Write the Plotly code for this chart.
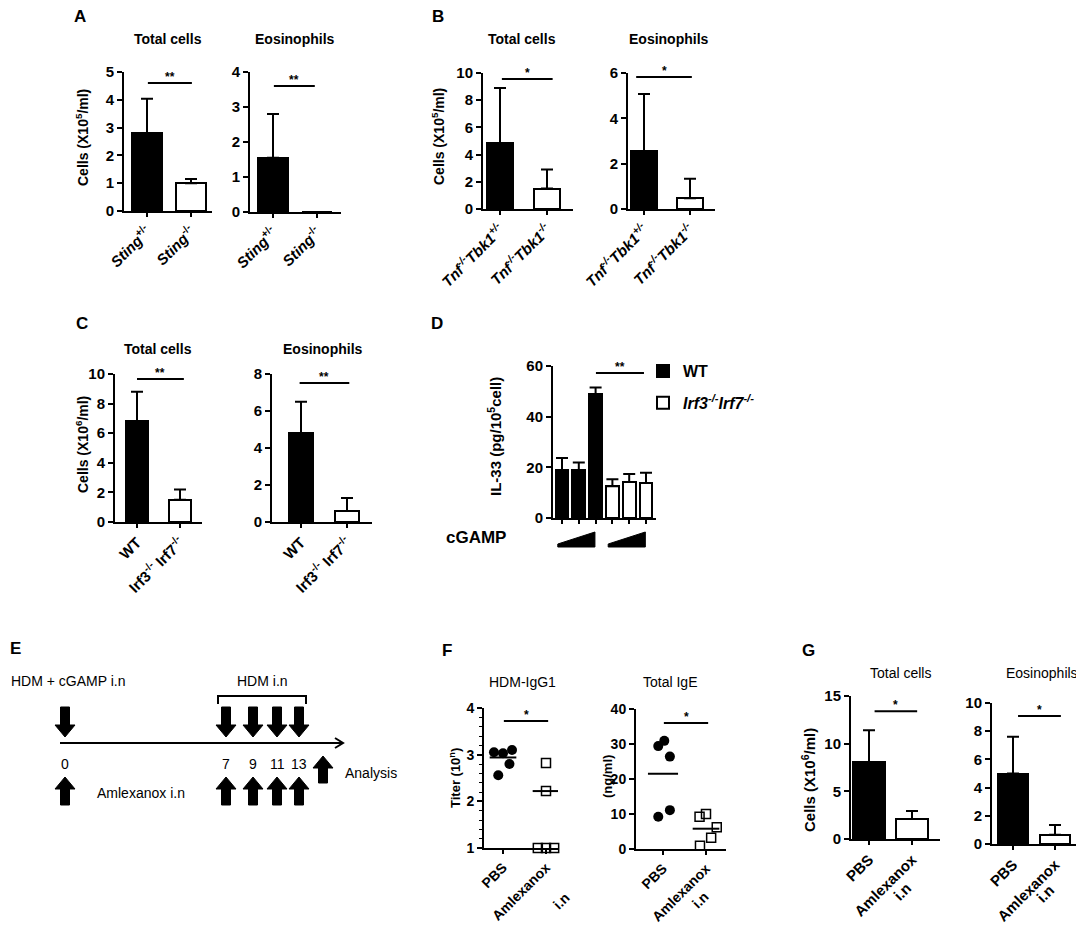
import plotly.graph_objects as go

# the page body has an 8px margin, so the figure is drawn 8px smaller and offset
OX, OY = 8, 8
W, H = 1084 - OX, 925 - OY
FONT = "Liberation Sans"

# ================ data ================
a_labels = ["<i>Sting</i><sup>+/-</sup>", "<i>Sting</i><sup>-/-</sup>"]
a_total = [2.8, 1.0]
a_total_sd = [1.24, 0.15]
a_eos = [1.55, 0.0]
a_eos_sd = [1.25, 0.0]

b_labels = ["<i>Tnf<sup>-/-</sup>Tbk1<sup>+/-</sup></i>", "<i>Tnf<sup>-/-</sup>Tbk1<sup>-/-</sup></i>"]
b_total = [4.85, 1.5]
b_total_sd = [4.05, 1.4]
b_eos = [2.55, 0.47]
b_eos_sd = [2.52, 0.86]

c_labels = ["WT", "Irf3<sup>-/-</sup> Irf7<sup>-/-</sup>"]
c_total = [6.8, 1.5]
c_total_sd = [2.0, 0.7]
c_eos = [4.8, 0.6]
c_eos_sd = [1.7, 0.7]

d_wt = [18.8, 18.9, 48.9]
d_wt_sd = [4.9, 3.0, 2.6]
d_ko = [12.5, 14.2, 13.8]
d_ko_sd = [2.8, 3.2, 4.1]

e_days = ["0", "7", "9", "11", "13"]

f_labels = ["PBS", "Amlexanox"]
f_igg1_pbs = [3.05, 3.03, 3.10, 2.80, 2.56]
f_igg1_aml = [2.82, 2.22, 1.0, 1.0, 1.0]
f_igg1_line = [2.94, 2.22]
f_ige_pbs = [29.4, 30.9, 26.4, 9.2, 11.1]
f_ige_aml = [9.2, 10.0, 6.2, 3.2, 0.9]
f_ige_line = [21.5, 5.8]

g_labels = ["PBS", "Amlexanox"]
g_total = [8.05, 2.1]
g_total_sd = [3.35, 0.85]
g_eos = [5.0, 0.65]
g_eos_sd = [2.6, 0.7]

# ================ layout helpers ================
def px(x):
    return (x - OX) / W

def py(y):
    return 1 - (y - OY) / H

# plot boxes (pixels): left, right, top, bottom, centre of 1st and 2nd category
boxes = {
    1: (124, 212, 72, 211, 147, 191),
    2: (250, 341, 72, 212, 273, 317),
    3: (483, 573, 73, 209, 500, 547),
    4: (628, 715, 73, 209, 644, 690),
    5: (115, 202, 374, 522, 137, 180),
    6: (272, 372, 374, 522, 301, 347),
    7: (553, 656, 366, 518, 562, 578.8),
    8: (484, 558, 708, 848, 503, 546),
    9: (636, 726, 709, 849, 663, 706),
    10: (851, 940, 696, 839, 869, 912),
    11: (992, 1082, 703, 844, 1013, 1055),
}

def sfx(n):
    return "" if n == 1 else str(n)

def tfont(size=13, bold=True):
    return dict(family=FONT, size=size, color="black", weight="bold" if bold else "normal")

fig = go.Figure()

def make_axes(n, yrange, dtick, ticktext=None, nticks=2, labels=True, fs=15):
    l, r, t, b, c0, c1 = boxes[n]
    u = c1 - c0
    s = sfx(n)
    fig.update_layout({
        "xaxis" + s: dict(domain=[px(l), px(r)], range=[-(c0 - l) / u, (r - c0) / u],
                          anchor="y" + s, tickvals=list(range(nticks)),
                          ticktext=ticktext, showticklabels=labels, tickangle=-45,
                          ticks="outside", ticklen=4, tickwidth=2, tickcolor="black",
                          showline=True, linewidth=2, linecolor="black",
                          showgrid=False, zeroline=False, automargin=False,
                          tickfont=tfont(fs)),
        "yaxis" + s: dict(domain=[py(b), py(t)], range=yrange, dtick=dtick,
                          anchor="x" + s, ticks="outside", ticklen=5, tickwidth=2,
                          tickcolor="black", showline=True, linewidth=2,
                          linecolor="black", showgrid=False, zeroline=False,
                          automargin=False, tickfont=tfont(fs)),
    })

def bars(n, vals, sd, width, color, x0=0, name=None, legend=False):
    s = sfx(n)
    fig.add_trace(go.Bar(
        x=[x0 + i for i in range(len(vals))], y=vals, width=width, name=name,
        marker=dict(color=color, line=dict(color="black", width=2)),
        error_y=dict(type="data", array=sd, arrayminus=[0] * len(sd), symmetric=False,
                     color="black", thickness=2, width=6),
        xaxis="x" + s, yaxis="y" + s, showlegend=legend, legendgroup=name))

def sig(n, x0, x1, y, stars):
    s = sfx(n)
    fig.add_shape(type="line", xref="x" + s, yref="y" + s, x0=x0, x1=x1, y0=y, y1=y,
                  line=dict(color="black", width=2))
    fig.add_annotation(xref="x" + s, yref="y" + s, x=(x0 + x1) / 2, y=y, text=stars,
                       showarrow=False, yanchor="bottom", yshift=-3, font=tfont(12))

def text(x, y, t, size=14, bold=True, angle=0, anchor="center"):
    fig.add_annotation(xref="paper", yref="paper", x=px(x), y=py(y), text=t,
                       showarrow=False, textangle=angle, xanchor=anchor, yanchor="middle",
                       font=tfont(size, bold))

# ================ A ================
make_axes(1, [0, 5], 1, a_labels)
bars(1, a_total, a_total_sd, 0.68, ["black", "white"])
sig(1, 0.02, 1.02, 4.6, "**")
make_axes(2, [0, 4], 1, a_labels)
bars(2, a_eos, a_eos_sd, 0.7, ["black", "white"])
sig(2, 0.02, 0.95, 3.6, "**")

# ================ B ================
make_axes(3, [0, 10], 2, b_labels)
bars(3, b_total, b_total_sd, 0.55, ["black", "white"])
sig(3, 0.04, 1.12, 9.56, "*")
make_axes(4, [0, 6], 2, b_labels)
bars(4, b_eos, b_eos_sd, 0.55, ["black", "white"])
sig(4, -0.17, 1.04, 5.82, "*")

# ================ C ================
make_axes(5, [0, 10], 2, c_labels)
bars(5, c_total, c_total_sd, 0.51, ["black", "white"])
sig(5, 0.0, 1.09, 9.66, "**")
make_axes(6, [0, 8], 2, c_labels)
bars(6, c_eos, c_eos_sd, 0.52, ["black", "white"])
sig(6, -0.03, 1.05, 7.51, "**")

# ================ D ================
make_axes(7, [0, 60], 20, None, nticks=6, labels=False)
bars(7, d_wt, d_wt_sd, 0.77, "black", 0, "<b>WT</b>", True)
bars(7, d_ko, d_ko_sd, 0.77, "white", 3, "<b><i>Irf3<sup>-/-</sup>Irf7<sup>-/-</sup></i></b>", True)
sig(7, 2.02, 4.88, 57.2, "**")
for i0 in (0, 3):
    # cGAMP dose wedge under each group
    fig.add_shape(type="path", xref="x7", yref="paper",
                  path=f"M {i0 - 0.25},{py(547)} L {i0 - 0.25},{py(544)} L {i0 + 1.96},{py(532)} "
                       f"L {i0 + 1.96},{py(547)} Z",
                  fillcolor="black", line=dict(color="black", width=1))
text(476, 537, "cGAMP", 17)

# ================ E ================
day_x = [65, 226, 253, 277, 299]

def block_arrow(xc, y_tail, y_tip, shaft=9, head=20, head_len=12):
    d = 1 if y_tip > y_tail else -1
    yn = y_tip - d * head_len
    pts = [(xc - shaft / 2, y_tail), (xc + shaft / 2, y_tail), (xc + shaft / 2, yn),
           (xc + head / 2, yn), (xc, y_tip), (xc - head / 2, yn), (xc - shaft / 2, yn)]
    path = "M " + " L ".join(f"{px(a)},{py(b)}" for a, b in pts) + " Z"
    fig.add_shape(type="path", xref="paper", yref="paper", path=path,
                  fillcolor="black", line=dict(color="black", width=1))

for i, dx in enumerate(day_x):
    block_arrow(dx, 707, 737)
    block_arrow(dx, 805, 777)
    text(dx, 764, e_days[i], 14, False)
block_arrow(323, 783, 756)
fig.add_shape(type="line", xref="paper", yref="paper", x0=px(60), x1=px(343),
              y0=py(743), y1=py(743), line=dict(color="black", width=2))
fig.add_shape(type="path", xref="paper", yref="paper",
              path=f"M {px(335)},{py(738)} L {px(343)},{py(743)} L {px(335)},{py(748)}",
              line=dict(color="black", width=2))
fig.add_shape(type="path", xref="paper", yref="paper",
              path=f"M {px(218)},{py(704)} L {px(218)},{py(696)} L {px(306)},{py(696)} L {px(306)},{py(704)}",
              line=dict(color="black", width=2))
text(9, 681, "HDM + cGAMP i.n", 14, False, anchor="left")
text(262, 681, "HDM i.n", 14, False)
text(343, 773, "Analysis", 14, False, anchor="left")
text(95, 793, "Amlexanox i.n", 14, False, anchor="left")

# ================ F ================
pbs_dx1 = [-0.21, 0.0, 0.21, 0.15, -0.11]
aml_dx1 = [0.0, 0.0, -0.19, 0.0, 0.19]
pbs_dx2 = [-0.11, 0.03, 0.16, -0.11, 0.16]
aml_dx2 = [-0.15, 0.0, 0.25, 0.12, -0.14]

def dots(n, pbs, aml, dxp, dxa, line_vals, hw):
    s = sfx(n)
    fig.add_trace(go.Scatter(x=[0 + d for d in dxp], y=pbs, mode="markers",
                             marker=dict(symbol="circle", size=10, color="black"),
                             xaxis="x" + s, yaxis="y" + s, showlegend=False, cliponaxis=False))
    fig.add_trace(go.Scatter(x=[1 + d for d in dxa], y=aml, mode="markers",
                             marker=dict(symbol="square-open", size=9, color="black",
                                         line=dict(width=1.5)),
                             xaxis="x" + s, yaxis="y" + s, showlegend=False, cliponaxis=False))
    for i, v in enumerate(line_vals):
        fig.add_trace(go.Scatter(x=[i - hw[i], i + hw[i]], y=[v, v], mode="lines",
                                 line=dict(color="black", width=2),
                                 xaxis="x" + s, yaxis="y" + s, showlegend=False))

make_axes(8, [1, 4], 1, f_labels, fs=14)
fig.update_layout(yaxis8=dict(minor=dict(dtick=0.2, ticks="outside", ticklen=3,
                                         tickwidth=1, tickcolor="black")))
dots(8, f_igg1_pbs, f_igg1_aml, pbs_dx1, aml_dx1, f_igg1_line, [0.31, 0.31])
sig(8, 0.02, 1.05, 3.72, "*")
make_axes(9, [0, 40], 10, f_labels, fs=14)
dots(9, f_ige_pbs, f_ige_aml, pbs_dx2, aml_dx2, f_ige_line, [0.35, 0.31])
sig(9, 0.02, 1.05, 36, "*")

# ================ G ================
make_axes(10, [0, 15], 5, g_labels)
bars(10, g_total, g_total_sd, 0.73, ["black", "white"])
sig(10, 0.13, 1.12, 13.4, "*")
make_axes(11, [0, 10], 2, g_labels)
bars(11, g_eos, g_eos_sd, 0.71, ["black", "white"])
sig(11, 0.12, 1.14, 9.08, "*")

# second line of the rotated "Amlexanox i.n" labels
for x, y, fs in [(561, 901, 14), (700, 900, 14), (902, 891, 15), (1045, 893, 15)]:
    text(x, y, "i.n", fs, angle=-45)

# ================ texts ================
for lab, x, y in [("A", 80, 17), ("B", 438, 17), ("C", 82, 323), ("D", 437, 323),
                  ("E", 15, 648), ("F", 447, 650), ("G", 808, 650)]:
    text(x, y, lab, 17)

text(168, 39, "Total cells", 14)
text(295, 39, "Eosinophils", 14)
text(522, 39, "Total cells", 14)
text(669, 39, "Eosinophils", 14)
text(158, 349, "Total cells", 14)
text(323, 349, "Eosinophils", 14)
text(522, 682, "HDM-IgG1", 14, False)
text(670, 682, "Total IgE", 14, False)
text(900, 673, "Total cells", 14, False)
text(1080, 673, "Eosinophils", 14, False, anchor="right")

text(82, 138, "Cells (X10<sup>5</sup>/ml)", 14, angle=-90)
text(438, 137, "Cells (X10<sup>5</sup>/ml)", 14, angle=-90)
text(82, 445, "Cells (X10<sup>6</sup>/ml)", 14, angle=-90)
text(494, 437, "IL-33 (pg/10<sup>5</sup>cell)", 15, angle=-90)
text(455, 778, "Titer (10<sup>n</sup>)", 13, angle=-90)
text(607, 777, "(ng/ml)", 13, angle=-90)
text(808, 780, "Cells (X10<sup>6</sup>/ml)", 15, angle=-90)

fig.update_layout(
    width=W, height=H, margin=dict(l=0, r=0, t=0, b=0),
    plot_bgcolor="white", paper_bgcolor="white",
    font=dict(family=FONT, color="black"),
    bargap=0, barmode="overlay",
    legend=dict(x=px(643), y=py(354), xanchor="left", yanchor="top",
                font=tfont(16), tracegroupgap=8, bgcolor="rgba(0,0,0,0)"),
)

fig.write_html("out.html")
